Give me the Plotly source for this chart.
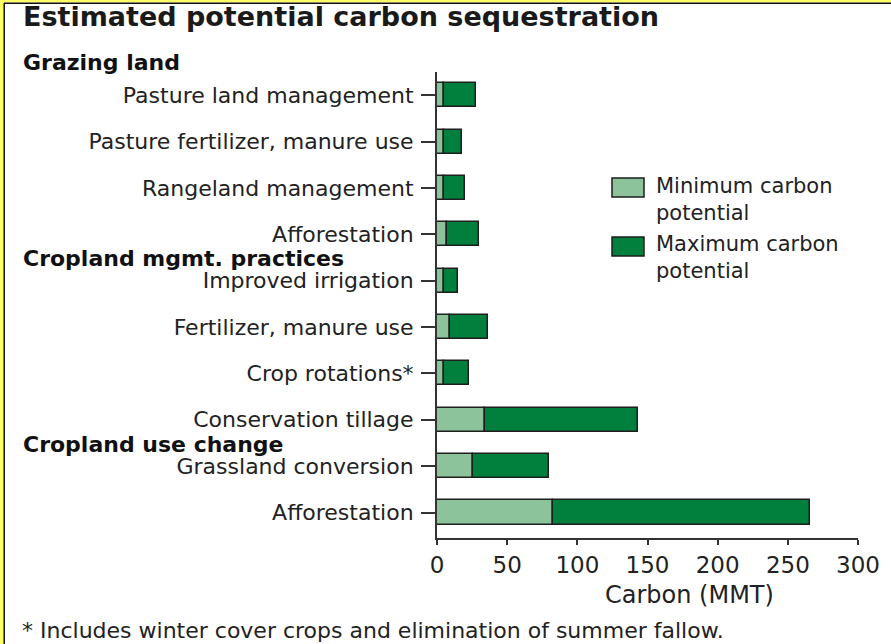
import plotly.graph_objects as go

# ---- data ----
categories = [
    "Pasture land management",
    "Pasture fertilizer, manure use",
    "Rangeland management",
    "Afforestation",
    "Improved irrigation",
    "Fertilizer, manure use",
    "Crop rotations*",
    "Conservation tillage",
    "Grassland conversion",
    "Afforestation",
]
min_carbon = [5, 5, 5, 7, 5, 9, 5, 34, 26, 83]
max_carbon = [28, 18, 20, 30, 15, 36, 23, 143, 80, 266]
x_ticks = [0, 50, 100, 150, 200, 250, 300]
groups = ["Grazing land", "Cropland mgmt. practices", "Cropland use change"]
group_px = [62, 258, 444]  # vertical pixel centres of group headers

W, H = 891, 644
L, R, T, B = 437, 858, 72, 538  # plot area in pixels

def px_x(p):
    return (p - L) / (R - L)

def px_y(p):
    return (B - p) / (B - T)

FONT = "DejaVu Sans"
TXT = "#222222"
LIGHT = "#8cc39b"
DARK = "#00803c"
EDGE = "#1e1e1e"

pos = list(range(len(categories)))

fig = go.Figure()
fig.add_trace(go.Bar(
    y=pos, x=min_carbon, orientation="h", width=0.52,
    marker=dict(color=LIGHT, line=dict(color=EDGE, width=1.5)),
    name="Minimum carbon potential", showlegend=False,
))
fig.add_trace(go.Bar(
    y=pos, x=[mx - mn for mn, mx in zip(min_carbon, max_carbon)], base=min_carbon,
    orientation="h", width=0.52,
    marker=dict(color=DARK, line=dict(color=EDGE, width=1.5)),
    name="Maximum carbon potential", showlegend=False,
))

annotations = []
# title
annotations.append(dict(
    text="<b>Estimated potential carbon sequestration</b>", xref="paper", yref="paper",
    x=px_x(21), y=px_y(17), xanchor="left", yanchor="middle", showarrow=False,
    font=dict(family=FONT, size=27, color="#1a1a1a"),
))
# group headers
for g, gp in zip(groups, group_px):
    annotations.append(dict(
        text="<b>" + g + "</b>", xref="paper", yref="paper",
        x=px_x(21), y=px_y(gp), xanchor="left", yanchor="middle", showarrow=False,
        font=dict(family=FONT, size=22, color="#111111"),
    ))
# x-axis title
annotations.append(dict(
    text="Carbon (MMT)", xref="paper", yref="paper",
    x=px_x(689), y=px_y(595), xanchor="center", yanchor="middle", showarrow=False,
    font=dict(family=FONT, size=24, color=TXT),
))
# footnote
annotations.append(dict(
    text="* Includes winter cover crops and elimination of summer fallow.",
    xref="paper", yref="paper",
    x=px_x(20), y=px_y(630), xanchor="left", yanchor="middle", showarrow=False,
    font=dict(family=FONT, size=22, color=TXT),
))
# legend texts
leg_items = [("Minimum carbon<br>potential", 199), ("Maximum carbon<br>potential", 257)]
for t, yy in leg_items:
    annotations.append(dict(
        text=t, xref="paper", yref="paper", x=px_x(654), y=px_y(yy),
        xanchor="left", yanchor="middle", align="left", showarrow=False,
        font=dict(family=FONT, size=21, color=TXT),
    ))

shapes = [
    # legend swatches
    dict(type="rect", xref="paper", yref="paper", x0=px_x(612), x1=px_x(644),
         y0=px_y(197), y1=px_y(178), fillcolor=LIGHT, line=dict(color=EDGE, width=1.5)),
    dict(type="rect", xref="paper", yref="paper", x0=px_x(612), x1=px_x(644),
         y0=px_y(256), y1=px_y(237), fillcolor=DARK, line=dict(color=EDGE, width=1.5)),
    # frame: yellow edges with dark inner line
    dict(type="rect", xref="paper", yref="paper", x0=px_x(-5), x1=px_x(3.5),
         y0=px_y(-5), y1=px_y(H + 5), fillcolor="#ffff66", line=dict(width=0), layer="above"),
    dict(type="rect", xref="paper", yref="paper", x0=px_x(-5), x1=px_x(W + 5),
         y0=px_y(2.5), y1=px_y(-5), fillcolor="#ffff66", line=dict(width=0), layer="above"),
    dict(type="line", xref="paper", yref="paper", x0=px_x(4.2), x1=px_x(4.2),
         y0=px_y(3), y1=px_y(H + 5), line=dict(color="#111111", width=1.5)),
    dict(type="line", xref="paper", yref="paper", x0=px_x(4), x1=px_x(W + 5),
         y0=px_y(3.2), y1=px_y(3.2), line=dict(color="#111111", width=1.5)),
]

fig.update_layout(
    width=W, height=H,
    margin=dict(l=L, r=W - R, t=T, b=H - B, autoexpand=False),
    paper_bgcolor="white", plot_bgcolor="white",
    barmode="overlay", bargap=0,
    font=dict(family=FONT, size=22, color=TXT),
    annotations=annotations, shapes=shapes,
    xaxis=dict(
        range=[0, 300], tickvals=x_ticks, ticktext=[str(v) for v in x_ticks],
        showgrid=False, zeroline=False, showline=True, linecolor="#333333", linewidth=2,
        ticks="outside", ticklen=5, tickwidth=2, tickcolor="#333333",
        tickfont=dict(family=FONT, size=23, color=TXT), fixedrange=True,
    ),
    yaxis=dict(
        range=[9.55, -0.5], tickvals=pos, ticktext=categories,
        showgrid=False, zeroline=False, showline=True, linecolor="#333333", linewidth=2,
        ticks="outside", ticklen=14, tickwidth=2, tickcolor="#333333",
        ticklabelstandoff=3,
        tickfont=dict(family=FONT, size=22, color=TXT), fixedrange=True,
    ),
)

fig.write_html("out.html", config={"displayModeBar": False},
               post_script="document.body.style.margin='0';")
